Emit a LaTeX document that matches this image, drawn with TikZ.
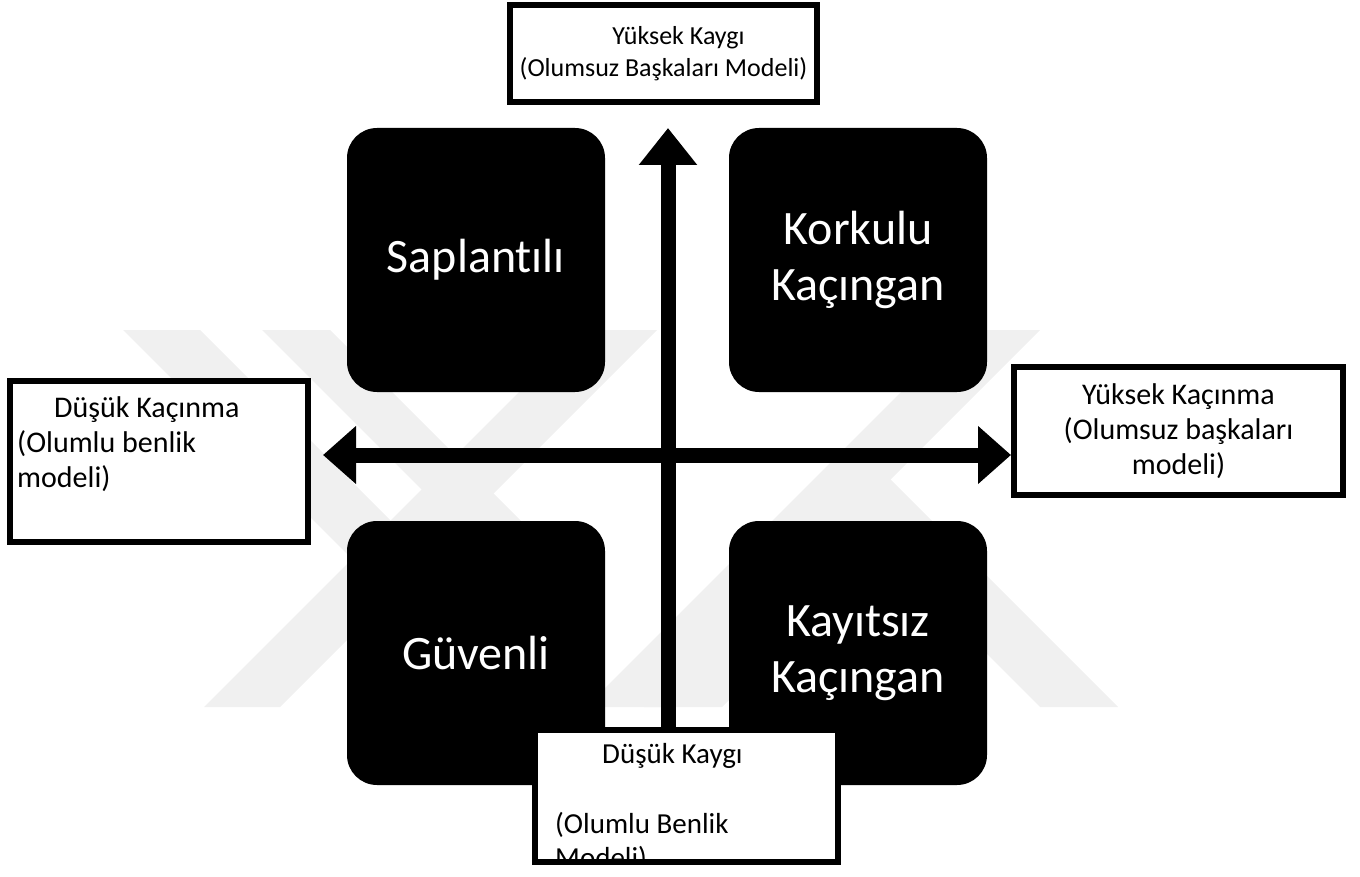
\documentclass[tikz,border=0pt]{standalone}
\usepackage{fontspec}
\setmainfont{Carlito}[Ligatures=CommonOff]
\usepackage{tikz}
\usetikzlibrary{arrows.meta,positioning}
\definecolor{markGray}{gray}{0.94}

\begin{document}
\begin{tikzpicture}[
    x=1pt,y=-1pt,
    every node/.style={font=\fontsize{28}{34}\selectfont},
    stylebox/.style={rounded corners=30pt,fill=black,text=white,minimum width=258pt,minimum height=264pt,align=center,font=\fontsize{48}{56}\selectfont},
    labelbox/.style={draw=black,line width=6pt,fill=white,inner sep=0pt,outer sep=0pt},
    labeltext/.style={anchor=north west,align=left,inner sep=0pt},
    axis/.style={line width=15pt,black},
    markband/.style={fill=markGray}
  ]
  \useasboundingbox (0,0) rectangle (1360,877);
  %% Background mark
  \fill[markband] (123,330) -- (200,330) -- (577,707) -- (500,707) -- cycle;
  \fill[markband] (262,330) -- (330,330) -- (560,560) -- (492,560) -- cycle;
  \fill[markband] (204,707) -- (280,707) -- (657,330) -- (581,330) -- cycle;
  \fill[markband] (963,330) -- (1040,330) -- (663,707) -- (586,707) -- cycle;
  \fill[markband] (881,470) -- (1118,707) -- (1040,707) -- (881,548) -- (722,707) -- (644,707) -- cycle;
  %% Attachment styles
  \node[stylebox] (preocc)  at (476,260) {Saplantılı};
  \node[stylebox] (fearful) at (858,260) {Korkulu\\Kaçıngan};
  \node[stylebox] (secure)  at (476,653) {Güvenli};
  \node[stylebox] (dismiss) at (858,653) {Kayıtsız\\Kaçıngan};
  %% Axes
  \coordinate (yTop)   at (668,128);
  \coordinate (yBot)   at (668,745);
  \coordinate (xLeft)  at (323,455);
  \coordinate (xRight) at (1011,455);
  \draw[axis,-{Triangle[length=37pt,width=56pt]}] (yBot) -- (yTop);
  \draw[axis,{Triangle[length=33pt,width=56pt]}-{Triangle[length=33pt,width=56pt]}] (xLeft) -- (xRight);
  %% Axis labels
  \node[labelbox,minimum width=307pt,minimum height=97pt,align=center,font=\fontsize{26}{32}\selectfont] (highAnx) at (663.5,53.5)
    {\hspace*{30pt}Yüksek Kaygı\\(Olumsuz Başkaları Modeli)};
  \node[labelbox,minimum width=329pt,minimum height=128pt,align=center,font=\fontsize{30}{35}\selectfont] (highAvd) at (1178.5,431)
    {Yüksek Kaçınma\\(Olumsuz başkaları\\modeli)};
  \node[labelbox,minimum width=298pt,minimum height=161pt] (lowAvd) at (159,461.5) {};
  \node[labeltext,font=\fontsize{30}{35}\selectfont] (lowAvdText) at (17,396) {\hspace*{37pt}Düşük Kaçınma\\(Olumlu benlik\\modeli)};
  \node[labelbox,minimum width=303pt,minimum height=132pt] (lowAnx) at (686.5,796) {};
  \begin{scope}
    \clip ([shift={(3pt,-3pt)}]lowAnx.north west) rectangle ([shift={(-3pt,3pt)}]lowAnx.south east);
    \node[labeltext,font=\fontsize{29}{34}\selectfont] (lowAnxText) at (555,743) {\hspace*{47pt}Düşük Kaygı\\[36pt](Olumlu Benlik\\Modeli)};
  \end{scope}
\end{tikzpicture}
\end{document}
